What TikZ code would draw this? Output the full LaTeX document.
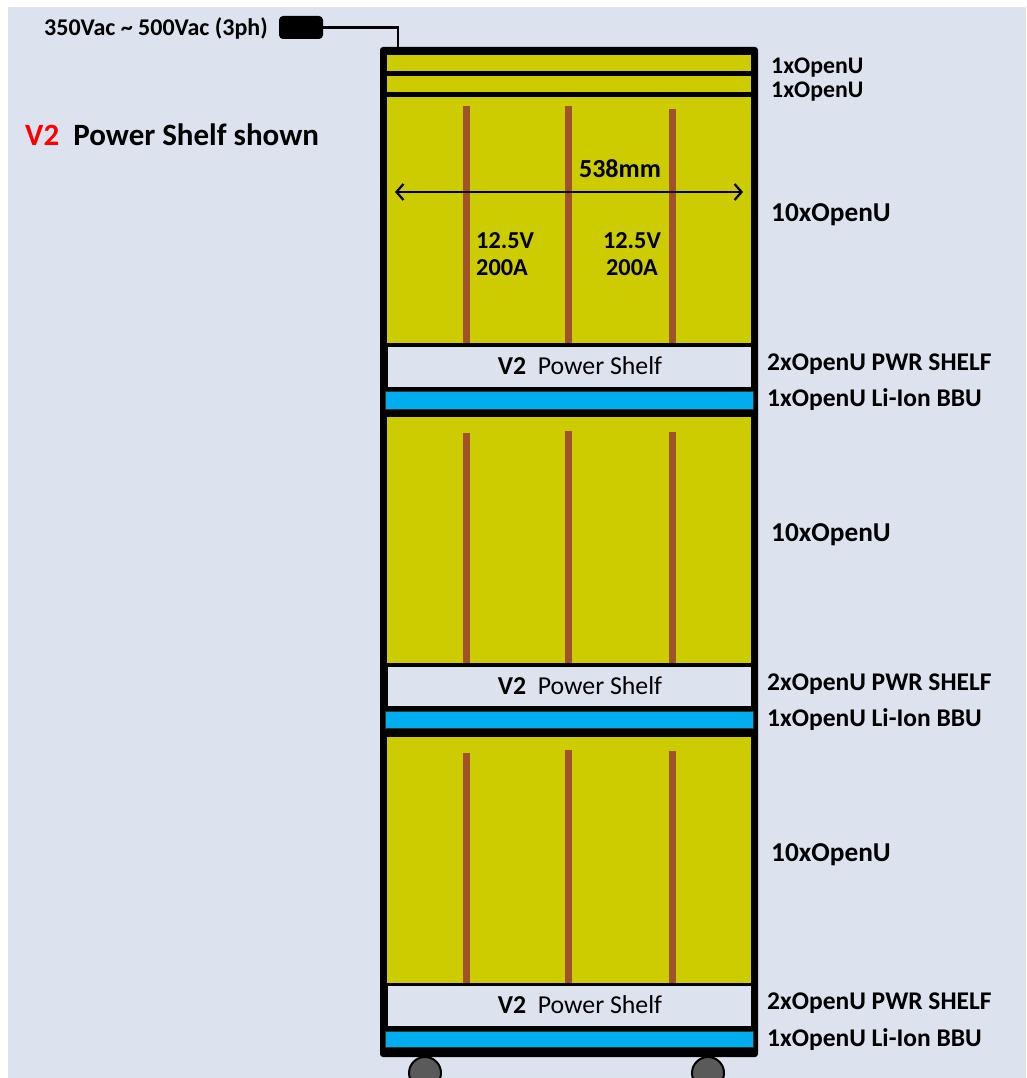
\documentclass[tikz,border=0pt]{standalone}
\usepackage{fontspec}
\setmainfont{Carlito}
\usetikzlibrary{arrows.meta}
\definecolor{bg}{HTML}{DCE3EE}
\definecolor{olive}{HTML}{CCCC00}
\definecolor{bus}{HTML}{A0522D}
\definecolor{bbublue}{HTML}{00AEEF}
\definecolor{wheelgrey}{HTML}{5A5A5A}
\tikzset{
  slot/.style={fill=olive},
  shelfbox/.style={fill=bg, draw=black, line width=1pt},
  bbubar/.style={fill=bbublue, draw=black!80, line width=1pt},
  busbar/.style={fill=bus},
  wheel/.style={fill=wheelgrey, draw=black, line width=2pt},
  rlabel/.style={anchor=west, inner sep=0pt, font=\bfseries\fontsize{25.5}{30}\selectfont},
  ulabel/.style={anchor=west, inner sep=0pt, font=\bfseries\fontsize{27.3}{32}\selectfont},
  toplabel/.style={anchor=west, inner sep=0pt, font=\bfseries\fontsize{23.8}{28}\selectfont},
  shelftext/.style={inner sep=0pt, font=\fontsize{25.8}{30}\selectfont},
  valtext/.style={inner sep=0pt, font=\bfseries\fontsize{24.3}{27}\selectfont},
  cable/.style={line width=2.2pt, black},
}
\begin{document}
\begin{tikzpicture}[x=1pt,y=-1pt]
\useasboundingbox (0,0) rectangle (1026,1078);
\fill[white] (0,0) rectangle (1026,1078);
\fill[bg] (8,7) rectangle (1026,1078);
% wheels
\draw[wheel] (425,1073) circle (16pt);
\draw[wheel] (708,1073) circle (16pt);
% rack frame
\fill[black, rounded corners=3pt] (380,47) rectangle (758,1057);
\coordinate (rackin) at (398,47);
% top slots
\fill[slot] (387,55) rectangle (751,71);
\fill[slot] (387,76) rectangle (751,92);
% sections
\fill[slot] (387,97) rectangle (751,343);
\fill[slot] (387,417) rectangle (751,663);
\fill[slot] (387,737) rectangle (751,983);
% bus bars
\fill[busbar] (462.5,106) rectangle (469.5,343);
\fill[busbar] (564.5,106) rectangle (571.5,343);
\fill[busbar] (668.5,109) rectangle (675.5,343);
\fill[busbar] (462.5,433) rectangle (469.5,663);
\fill[busbar] (564.5,431) rectangle (571.5,663);
\fill[busbar] (668.5,432) rectangle (675.5,663);
\fill[busbar] (462.5,753) rectangle (469.5,983);
\fill[busbar] (564.5,750) rectangle (571.5,983);
\fill[busbar] (668.5,751) rectangle (675.5,983);
% power shelves
\draw[shelfbox] (387,346) rectangle (751,387);
\draw[shelfbox] (387,666) rectangle (751,706);
\draw[shelfbox] (387,985) rectangle (751,1026);
\node[shelftext] (ps1) at (580,366) {\textbf{V2}\ \ Power Shelf};
\node[shelftext] (ps2) at (580,686) {\textbf{V2}\ \ Power Shelf};
\node[shelftext] (ps3) at (580,1005) {\textbf{V2}\ \ Power Shelf};
% BBUs
\draw[bbubar] (385,391) rectangle (753,409);
\draw[bbubar] (385,711) rectangle (753,728);
\draw[bbubar] (385,1031) rectangle (753,1047);
% dimension arrow
\coordinate (dimL) at (395,192);
\coordinate (dimR) at (743,192);
\draw[line width=2.2pt, {Straight Barb[length=7pt,width=16pt]}-{Straight Barb[length=7pt,width=16pt]}] (dimL) -- (dimR);
\node[valtext, font=\bfseries\fontsize{26}{30}\selectfont] (dim) at (620,169) {538mm};
\node[valtext, align=left, anchor=west] (v1) at (476,254) {12.5V\\200A};
\node[valtext, align=center] (v2) at (632,254) {12.5V\\200A};
% plug and cable
\node[fill=black, rounded corners=4pt, minimum width=44pt, minimum height=23pt, inner sep=0pt] (plug) at (301,27.5) {};
\draw[cable] (plug.east) -| (rackin);
\node[anchor=east, inner sep=0pt, font=\bfseries\fontsize{24}{28}\selectfont] (ac) at (268,28) {350Vac \textasciitilde{} 500Vac (3ph)};
\node[anchor=west, inner sep=0pt, font=\bfseries\fontsize{31}{36}\selectfont] (title) at (25,135) {\textcolor{red}{V2}\ \ Power Shelf shown};
% right labels
\node[toplabel] (l1) at (771,68) {1xOpenU};
\node[toplabel] (l2) at (771,92) {1xOpenU};
\node[ulabel] (l3) at (771,215) {10xOpenU};
\node[rlabel] (l4) at (767,364) {2xOpenU PWR SHELF};
\node[rlabel] (l5) at (767,400) {1xOpenU Li-Ion BBU};
\node[ulabel] (l6) at (771,535) {10xOpenU};
\node[rlabel] (l7) at (767,684) {2xOpenU PWR SHELF};
\node[rlabel] (l8) at (767,720) {1xOpenU Li-Ion BBU};
\node[ulabel] (l9) at (771,855) {10xOpenU};
\node[rlabel] (l10) at (767,1003) {2xOpenU PWR SHELF};
\node[rlabel] (l11) at (767,1040) {1xOpenU Li-Ion BBU};
\end{tikzpicture}
\end{document}
